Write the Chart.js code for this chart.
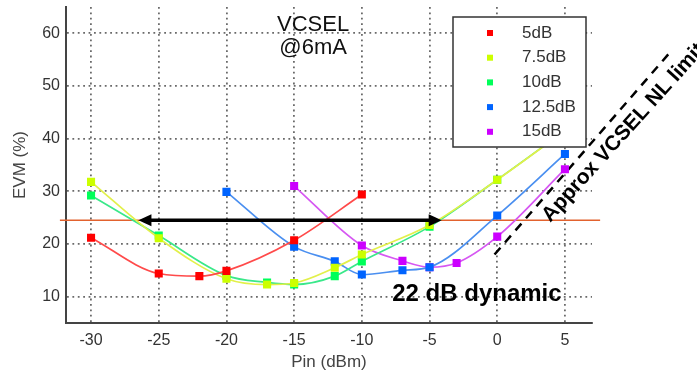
<!DOCTYPE html>
<html lang="en">
<head>
<meta charset="UTF-8">
<script src="https://cdn.jsdelivr.net/npm/chart.js@4.4.0/dist/chart.umd.min.js"></script>
<title>EVM vs Pin</title>
<style>
	html, body { margin: 0; padding: 0; background: #fff; }
</style>
</head>
<body>
<canvas id="myChart" width="697" height="370"></canvas>
<script>
	// series (Pin in dBm, EVM in %)
	let seriesNames = ["5dB", "7.5dB", "10dB", "12.5dB", "15dB"];
	let pin5 = [-30, -25, -22, -20, -15, -10];
	let evm5 = [21.2, 14.4, 13.9, 14.9, 20.7, 29.4];
	let pin75 = [-30, -25, -20, -17, -15, -12, -10, -5, 0, 5];
	let evm75 = [31.8, 21.1, 13.4, 12.3, 12.6, 15.5, 18.0, 23.6, 32.2, 41.5];
	let pin10 = [-30, -25, -20, -17, -15, -12, -10, -5, 0, 5];
	let evm10 = [29.2, 21.6, 14.0, 12.7, 12.3, 13.9, 16.7, 23.3, 32.2, 41.5];
	let pin125 = [-20, -15, -12, -10, -7, -5, 0, 5];
	let evm125 = [29.9, 19.5, 16.7, 14.2, 15.0, 15.6, 25.4, 37.1];
	let pin15 = [-15, -10, -7, -5, -3, 0, 5];
	let evm15 = [31.0, 19.7, 16.8, 15.6, 16.4, 21.4, 34.2];

	let xTicks = [-30, -25, -20, -15, -10, -5, 0, 5];
	let yTicks = [10, 20, 30, 40, 50, 60];

	// threshold line, dynamic range arrow and NL limit
	let refPin = [-32.3, 7.6];
	let refEvm = [24.5, 24.5];
	let arrowPin = [-26.5, -4.1];
	let nlPin = [-0.2, 12.9];
	let nlEvm = [18.0, 56.8];

	let markerColors = ["#ff0000", "#ccff00", "#00ff5a", "#0064ff", "#cc00ff"];
	let lineColors = ["#ff4a4a", "#e2f04a", "#3ae88a", "#4a8ff0", "#d657f2"];

	const zip = (xs, ys) => xs.map((x, i) => ({ x: x, y: ys[i] }));
	let seriesData = [zip(pin5, evm5), zip(pin75, evm75), zip(pin10, evm10), zip(pin125, evm125), zip(pin15, evm15)];

	let datasets = seriesData.map((d, i) => ({
		label: seriesNames[i],
		data: d,
		borderColor: lineColors[i],
		backgroundColor: markerColors[i],
		pointBorderColor: markerColors[i],
		pointStyle: "rect",
		pointRadius: 4.5,
		borderWidth: 1.7,
		cubicInterpolationMode: "monotone"
	}));
	datasets.push({
		label: "ref",
		data: zip(refPin, refEvm),
		borderColor: "#e2622e",
		borderWidth: 1.5,
		pointRadius: 0,
		clip: false
	});
	datasets.push({
		label: "nl",
		data: zip(nlPin, nlEvm),
		borderColor: "#000",
		borderWidth: 2.5,
		borderDash: [9, 7],
		pointRadius: 0,
		clip: false
	});

	const FONT = "'Liberation Sans', Arial, sans-serif";

	let extras = {
		id: "extras",
		afterDatasetsDraw(chart) {
			let ctx = chart.ctx;
			let xs = chart.scales.x, ys = chart.scales.y;
			ctx.save();

			// double arrow
			let yA = ys.getPixelForValue(refEvm[0]);
			let x1 = xs.getPixelForValue(arrowPin[0]);
			let x2 = xs.getPixelForValue(arrowPin[1]);
			ctx.strokeStyle = "#000";
			ctx.fillStyle = "#000";
			ctx.lineWidth = 3.5;
			ctx.beginPath();
			ctx.moveTo(x1 + 8, yA);
			ctx.lineTo(x2 - 8, yA);
			ctx.stroke();
			ctx.beginPath();
			ctx.moveTo(x1, yA); ctx.lineTo(x1 + 13, yA - 6); ctx.lineTo(x1 + 13, yA + 6);
			ctx.closePath(); ctx.fill();
			ctx.beginPath();
			ctx.moveTo(x2, yA); ctx.lineTo(x2 - 13, yA - 6); ctx.lineTo(x2 - 13, yA + 6);
			ctx.closePath(); ctx.fill();

			// texts
			ctx.textAlign = "center";
			ctx.textBaseline = "middle";
			ctx.fillStyle = "#111";
			ctx.font = "22px " + FONT;
			ctx.fillText("VCSEL", xs.getPixelForValue(-13.6), ys.getPixelForValue(61.5));
			ctx.fillText("@6mA", xs.getPixelForValue(-13.6), ys.getPixelForValue(57.2));

			ctx.fillStyle = "#000";
			ctx.font = "bold 24px " + FONT;
			ctx.fillText("22 dB dynamic", xs.getPixelForValue(-1.5), ys.getPixelForValue(10.4));

			ctx.save();
			ctx.translate(xs.getPixelForValue(3.92), ys.getPixelForValue(24.0));
			ctx.rotate(-48 * Math.PI / 180);
			ctx.textAlign = "left";
			ctx.textBaseline = "alphabetic";
			ctx.font = "bold 21px " + FONT;
			ctx.fillText("Approx VCSEL NL limit", 0, 0);
			ctx.restore();

			// legend box
			let lx = 453, ly = 17, lw = 133, lh = 130;
			ctx.fillStyle = "#fff";
			ctx.fillRect(lx, ly, lw, lh);
			ctx.strokeStyle = "#333";
			ctx.lineWidth = 1.5;
			ctx.strokeRect(lx, ly, lw, lh);
			ctx.font = "17px " + FONT;
			ctx.textAlign = "left";
			ctx.textBaseline = "middle";
			seriesNames.forEach((name, i) => {
				let ry = ly + 16 + i * 24.7;
				ctx.fillStyle = markerColors[i];
				ctx.fillRect(lx + 34, ry - 3, 6, 6);
				ctx.fillStyle = "#333";
				ctx.fillText(name, lx + 69, ry);
			});
			ctx.restore();
		}
	};

	new Chart("myChart", {
		type: "line",
		data: { datasets: datasets },
		plugins: [extras],
		options: {
			responsive: false,
			animation: false,
			layout: { padding: { left: 0, top: 7, right: 105, bottom: 0 } },
			plugins: { legend: { display: false }, tooltip: { enabled: false } },
			scales: {
				x: {
					type: "linear",
					min: -31.85,
					max: 7,
					afterBuildTicks: s => { s.ticks = xTicks.map(v => ({ value: v })); },
					afterFit: s => { s.height = 47; s.paddingLeft = 0; s.paddingRight = 0; },
					grid: { color: "#6a6a6a", lineWidth: 1.8, drawTicks: false },
					border: { display: true, color: "#444", width: 2, dash: [1.8, 3.6] },
					ticks: { color: "#333", font: { family: FONT, size: 16 }, padding: 8 },
					title: { display: true, text: "Pin (dBm)", color: "#444", font: { family: FONT, size: 17 }, padding: { top: 0, bottom: -3 } }
				},
				y: {
					type: "linear",
					min: 5,
					max: 65,
					afterBuildTicks: s => { s.ticks = yTicks.map(v => ({ value: v })); },
					afterFit: s => { s.width = 66; s.paddingTop = 0; s.paddingBottom = 0; },
					grid: { color: "#6a6a6a", lineWidth: 1.8, drawTicks: false },
					border: { display: true, color: "#444", width: 2, dash: [1.8, 3.6] },
					ticks: { color: "#333", font: { family: FONT, size: 16 }, padding: 6 },
					title: { display: true, text: "EVM (%)", color: "#444", font: { family: FONT, size: 17 }, padding: { top: 10, bottom: 0 } }
				}
			}
		}
	});
</script>
</body>
</html>
